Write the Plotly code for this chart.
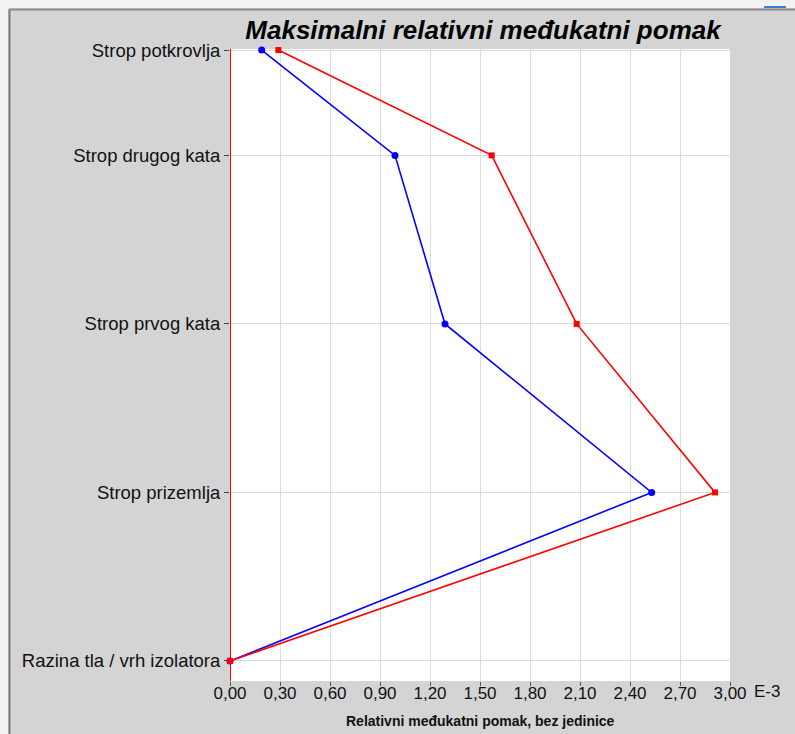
import plotly.graph_objects as go

# Storey levels (bottom to top) and their elevations used for the vertical axis
levels = ["Razina tla / vrh izolatora", "Strop prizemlja", "Strop prvog kata",
          "Strop drugog kata", "Strop potkrovlja"]
elevations = [0.0, 3.2, 6.4, 9.6, 11.6]

# Maximum inter-storey drift ratios (x 1E-3)
drift_blue = [0.0, 2.53, 1.29, 0.99, 0.19]
drift_red = [0.0, 2.91, 2.08, 1.57, 0.29]

x_ticks = [0.0, 0.3, 0.6, 0.9, 1.2, 1.5, 1.8, 2.1, 2.4, 2.7, 3.0]
x_tick_text = [f"{v:.2f}".replace(".", ",") for v in x_ticks]

FONT = "Liberation Sans, Arial, sans-serif"
W, H = 795, 734
ML, MR, MT, MB = 230, 65, 49, 53
PW, PH = W - ML - MR, H - MT - MB


def px_x(px):
    return (px - ML) / PW


def px_y(py):
    return (H - MB - py) / PH


fig = go.Figure()
fig.add_trace(go.Scatter(
    x=drift_blue, y=elevations, mode="lines+markers",
    line=dict(color="#0000ff", width=1.6),
    marker=dict(symbol="circle", size=7, color="#0000ff"),
    cliponaxis=False, showlegend=False))
fig.add_trace(go.Scatter(
    x=drift_red, y=elevations, mode="lines+markers",
    line=dict(color="#ff0000", width=1.6),
    marker=dict(symbol="square", size=6, color="#ff0000"),
    cliponaxis=False, showlegend=False))

fig.update_layout(
    width=W, height=H,
    margin=dict(l=ML, r=MR, t=MT, b=MB),
    paper_bgcolor="#d4d4d4",
    plot_bgcolor="#ffffff",
    font=dict(family=FONT, color="#111111"),
    title=dict(text="Maksimalni relativni međukatni pomak",
               font=dict(family=FONT, size=26, color="#000000",
                         weight="bold", style="italic"),
               x=483 / W, xref="container", xanchor="center",
               y=1 - 30 / H, yref="container", yanchor="middle"),
    xaxis=dict(range=[0, 3], tickvals=x_ticks, ticktext=x_tick_text,
               showgrid=True, gridcolor="#dcdcdc", gridwidth=1,
               zeroline=False, showline=False,
               ticks="outside", ticklen=4, tickcolor="#555555",
               ticklabelstandoff=-7,
               tickfont=dict(size=17, color="#111111")),
    yaxis=dict(range=[-0.38, 11.62], tickvals=elevations, ticktext=levels,
               showgrid=True, gridcolor="#dcdcdc", gridwidth=1,
               zeroline=False, showline=False,
               ticks="outside", ticklen=5, tickcolor="#444444",
               tickfont=dict(size=18.5, color="#111111")),
    shapes=[
        # red reference line along the vertical axis
        dict(type="line", xref="paper", yref="paper",
             x0=px_x(230.5), x1=px_x(230.5), y0=0, y1=1,
             line=dict(color="#ff0000", width=1), layer="above"),
        # window frame strips and borders around the chart panel
        dict(type="rect", xref="paper", yref="paper",
             x0=px_x(-5), x1=px_x(W + 5), y0=px_y(8), y1=px_y(-5),
             fillcolor="#f2f2f2", line=dict(width=0)),
        dict(type="rect", xref="paper", yref="paper",
             x0=px_x(-5), x1=px_x(8), y0=px_y(H + 5), y1=px_y(8),
             fillcolor="#f2f2f2", line=dict(width=0)),
        dict(type="line", xref="paper", yref="paper",
             x0=px_x(9.5), x1=px_x(W + 5), y0=px_y(9.5), y1=px_y(9.5),
             line=dict(color="#8c8c8c", width=2)),
        dict(type="line", xref="paper", yref="paper",
             x0=px_x(9.5), x1=px_x(9.5), y0=px_y(H + 5), y1=px_y(9.5),
             line=dict(color="#7a7a7a", width=2)),
        dict(type="line", xref="paper", yref="paper",
             x0=px_x(764), x1=px_x(786), y0=px_y(7), y1=px_y(7),
             line=dict(color="#3a7fd0", width=2)),
    ],
    annotations=[
        dict(text="E-3", xref="paper", yref="paper",
             x=px_x(752), y=px_y(691), xanchor="left", yanchor="middle",
             showarrow=False, font=dict(size=17, color="#111111")),
        dict(text="<b>Relativni međukatni pomak, bez jedinice</b>",
             xref="paper", yref="paper", x=px_x(480), y=px_y(721),
             xanchor="center", yanchor="middle", showarrow=False,
             font=dict(size=14, color="#111111")),
    ],
)

fig.write_html("out.html")
